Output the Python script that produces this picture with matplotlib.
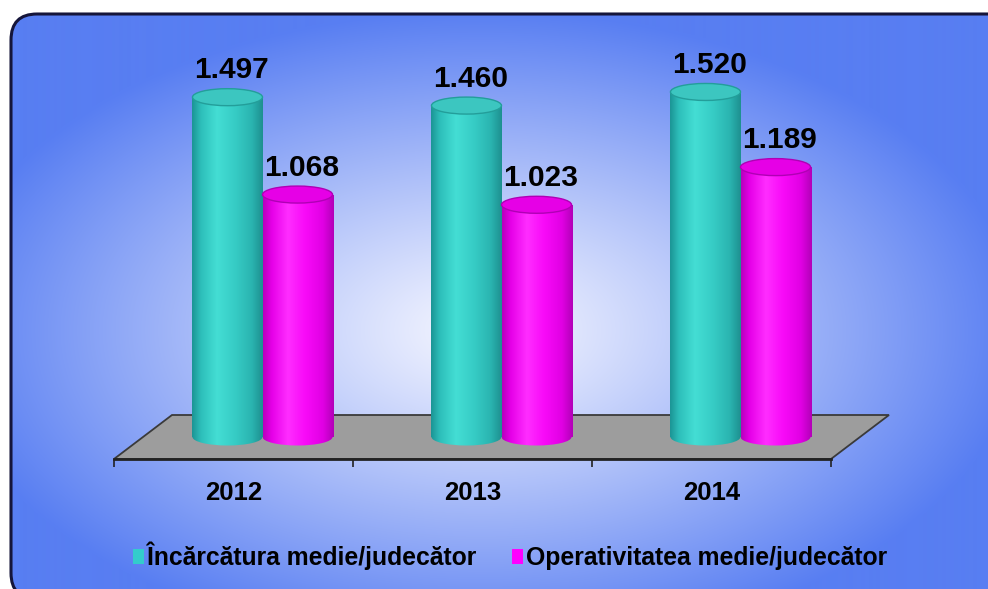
import numpy as np
import matplotlib
matplotlib.use("Agg")
import matplotlib.pyplot as plt
from matplotlib.patches import FancyBboxPatch, Ellipse, Polygon, Patch

# ---------------- data ----------------
years = ["2012", "2013", "2014"]
series_names = ["Încărcătura medie/judecător", "Operativitatea medie/judecător"]
incarcatura = [1.497, 1.460, 1.520]
operativitate = [1.068, 1.023, 1.189]
value_labels_inc = ["1.497", "1.460", "1.520"]
value_labels_op = ["1.068", "1.023", "1.189"]

W, H = 988, 589
DPI = 100
fig = plt.figure(figsize=(W / DPI, H / DPI), dpi=DPI, facecolor="white")
base_font = "Liberation Sans"

# ---------------- background ----------------
ax_bg = fig.add_axes([0, 0, 1, 1], zorder=0)
ax_bg.set_xlim(0, W)
ax_bg.set_ylim(0, H)
ax_bg.axis("off")
yy, xx = np.mgrid[0:H, 0:W]          # yy = pixel row from top
cx, cy, rx, ry = 480, 330, 540, 320
t = np.sqrt(((xx - cx) / rx) ** 2 + ((yy - cy) / ry) ** 2)
t = np.clip(t, 0, 1) ** 1.1
c0 = np.array([245, 246, 255]) / 255
c1 = np.array([88, 126, 242]) / 255
img = c0[None, None, :] * (1 - t[..., None]) + c1[None, None, :] * t[..., None]
frame = FancyBboxPatch((11, -10), 1010, H - 14 + 10, boxstyle="round,pad=0,rounding_size=26",
                       facecolor="none", edgecolor="#15153a", linewidth=2.2, zorder=3)
ax_bg.add_patch(frame)
im = ax_bg.imshow(img, extent=[0, W, 0, H], origin="upper", aspect="auto", zorder=1)
im.set_clip_path(frame)
ax_bg.set_xlim(0, W)
ax_bg.set_ylim(0, H)

# ---------------- chart geometry ----------------
px_per_unit = 227.0
x0_px, x1_px = 114, 831
base_px = 459
ymax = 1.7
ylo = -0.1
ncat = len(years)
cat_px = (x1_px - x0_px) / ncat
depth_dx, depth_dy = 58, 44

front_rect = [x0_px / W, (H - base_px) / H, (x1_px - x0_px) / W, ymax * px_per_unit / H]
ax_f = fig.add_axes(front_rect, zorder=1)
ax_f.set_xlim(-0.5, ncat - 0.5)
ax_f.set_ylim(0, ymax)
ax_f.patch.set_alpha(0)
for s in ["top", "right", "left"]:
    ax_f.spines[s].set_visible(False)
ax_f.spines["bottom"].set_color("#222222")
ax_f.spines["bottom"].set_linewidth(2)
ax_f.set_yticks([])
ax_f.set_xticks(range(ncat))
ax_f.set_xticklabels(years, fontsize=18.5, fontweight="bold", family=base_font)
ax_f.tick_params(axis="x", which="major", length=0, pad=16)
ax_f.set_xticks(np.arange(-0.5, ncat, 1.0), minor=True)
ax_f.tick_params(axis="x", which="minor", length=6, width=1.2, color="#222222", direction="out")

ddx = depth_dx / cat_px
ddy = depth_dy / px_per_unit
floor = Polygon([(-0.5, 0), (ncat - 0.5, 0), (ncat - 0.5 + ddx, ddy), (-0.5 + ddx, ddy)],
                closed=True, facecolor="#9d9d9d", edgecolor="#3a3a3a", linewidth=1.3,
                clip_on=False, zorder=1)
ax_f.add_patch(floor)

# bars axes shifted to mid-depth (extends a bit below the base for the rounded bottoms)
bar_rect = [(x0_px + depth_dx / 2) / W, (H - base_px + depth_dy / 2 + ylo * px_per_unit) / H,
            (x1_px - x0_px) / W, (ymax - ylo) * px_per_unit / H]
ax_b = fig.add_axes(bar_rect, zorder=2)
ax_b.patch.set_alpha(0)
ax_b.axis("off")

bw = 0.293
ell_h = 17 / px_per_unit

def shade(stops):
    xs_ = np.linspace(0, 1, 64)
    pos = [p for p, _ in stops]
    cols = np.array([c for _, c in stops]) / 255
    out = np.stack([np.interp(xs_, pos, cols[:, k]) for k in range(3)], axis=-1)
    return out[None, :, :]

teal_grad = shade([(0, (28, 150, 150)), (0.12, (45, 190, 186)), (0.35, (68, 222, 212)),
                   (0.6, (55, 205, 198)), (0.85, (42, 180, 176)), (1, (30, 145, 145))])
mag_grad = shade([(0, (185, 0, 190)), (0.12, (230, 0, 232)), (0.35, (255, 45, 255)),
                  (0.6, (248, 10, 248)), (0.85, (225, 0, 228)), (1, (180, 0, 185))])

series = [
    (incarcatura, value_labels_inc, -bw / 2, teal_grad, "#33CCCC", "#3cc6c0", "#239e9a"),
    (operativitate, value_labels_op, bw / 2, mag_grad, "#FF00FF", "#e600e6", "#b000b5"),
]
xs = np.arange(ncat)
for si, (vals, labs, off, grad, col, topc, rimc) in enumerate(series):
    z = 3 + si * 3
    bars = ax_b.bar(xs + off, vals, width=bw, color=col, linewidth=0, zorder=z + 0.5)
    for xi, (rect, v, lab) in enumerate(zip(bars, vals, labs)):
        xc = xs[xi] + off
        imb = ax_b.imshow(grad, extent=[xc - bw / 2, xc + bw / 2, 0, v], aspect="auto",
                          zorder=z + 1, interpolation="bilinear")
        imb.set_clip_path(rect)
        # rounded bottom of the cylinder, shaded like the body
        bot = Ellipse((xc, 0), bw, ell_h, facecolor="none", edgecolor="none", zorder=z + 0.8)
        ax_b.add_patch(bot)
        imb2 = ax_b.imshow(grad, extent=[xc - bw / 2, xc + bw / 2, -ell_h, ell_h], aspect="auto",
                           zorder=z + 0.9, interpolation="bilinear")
        imb2.set_clip_path(bot)
        ax_b.add_patch(Ellipse((xc, v), bw, ell_h, facecolor=topc, edgecolor=rimc,
                               linewidth=1.0, zorder=z + 2, clip_on=False))
        ax_b.annotate(lab, (xc, v), xytext=(4, 13), textcoords="offset pixels",
                      ha="center", va="bottom", fontsize=21.5, fontweight="bold",
                      family=base_font, color="black", zorder=20, annotation_clip=False)

ax_b.set_xlim(-0.5, ncat - 0.5)
ax_b.set_ylim(ylo, ymax)

# ---------------- legend ----------------
handles = [Patch(facecolor="#33CCCC", edgecolor="none"), Patch(facecolor="#FF00FF", edgecolor="none")]
leg = ax_bg.legend(handles, series_names, loc="center left", bbox_to_anchor=(123, H - 556),
                   bbox_transform=ax_bg.transData, ncol=2, frameon=False,
                   handlelength=0.45, handleheight=0.6, handletextpad=0.12, columnspacing=1.45,
                   prop=dict(family=base_font, weight="bold", size=17.8), borderaxespad=0)
leg.set_zorder(10)

fig.savefig("out.png", dpi=DPI, facecolor="white")
